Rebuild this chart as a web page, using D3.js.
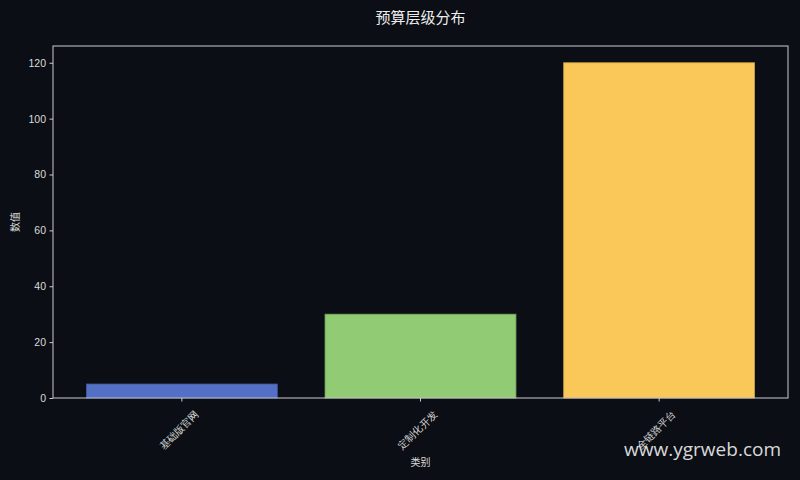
<!DOCTYPE html>
<html>
<head>
<meta charset="utf-8">
<script src="https://cdn.jsdelivr.net/npm/d3@7"></script>
<style>
  html, body { margin: 0; padding: 0; background: #0b0e14; }
  svg { display: block; font-family: "Noto Sans CJK SC", "DejaVu Sans", sans-serif; }
</style>
</head>
<body>
<div id="chart"></div>
<script>
const categories = ['基础版官网', '定制化开发', '全链路平台'];
const values = [5, 30, 120];
const barColors = ['#5470c6', '#91cc75', '#fac858'];
const yTicks = [0, 20, 40, 60, 80, 100, 120];

const width = 800,
	height = 480,
	margin = {top: 46, right: 12, bottom: 82, left: 53},
	innerWidth = width - margin.left - margin.right,
	innerHeight = height - margin.top - margin.bottom,
	textColor = '#dcdcdc',
	axisColor = '#cccccc';

const svg = d3.select('#chart')
	.append('svg')
	.attr('width', width)
	.attr('height', height);

svg.append('rect')
	.attr('width', width)
	.attr('height', height)
	.attr('fill', '#0b0e14');

const x = d3.scaleBand()
	.domain(categories)
	.range([0, innerWidth])
	.paddingInner(0.2)
	.paddingOuter(0.14);

const y = d3.scaleLinear()
	.domain([0, d3.max(values) * 1.05])
	.range([innerHeight, 0]);

const g = svg.append('g')
	.attr('transform', `translate(${margin.left},${margin.top})`);

// bars
g.selectAll('rect.bar')
	.data(categories)
	.enter()
	.append('rect')
	.classed('bar', true)
	.attr('x', d => x(d))
	.attr('y', (d, i) => y(values[i]))
	.attr('width', x.bandwidth())
	.attr('height', (d, i) => y(0) - y(values[i]))
	.attr('fill', (d, i) => barColors[i])
	.attr('stroke', (d, i) => d3.color(barColors[i]).darker(0.6))
	.attr('stroke-width', 0.8);

// frame
g.append('rect')
	.attr('width', innerWidth)
	.attr('height', innerHeight)
	.attr('fill', 'none')
	.attr('stroke', axisColor)
	.attr('stroke-width', 1);

// y axis
const yAxis = g.append('g')
	.call(d3.axisLeft(y).tickValues(yTicks).tickSize(3.5).tickPadding(3.5));
yAxis.select('.domain').remove();
yAxis.selectAll('line').attr('stroke', axisColor);
yAxis.selectAll('text')
	.attr('fill', textColor)
	.style('font-family', '"Liberation Sans", Arial, sans-serif')
	.style('font-size', '10.5px');

// x axis - rotated labels centred below each tick
const xAxis = g.append('g')
	.attr('transform', `translate(0,${innerHeight})`)
	.call(d3.axisBottom(x).tickSize(3.5).tickPadding(0));
xAxis.select('.domain').remove();
xAxis.selectAll('line').attr('stroke', axisColor);
xAxis.selectAll('text')
	.attr('fill', textColor)
	.style('font-size', '10px')
	.attr('text-anchor', 'middle')
	.attr('y', 0)
	.attr('dy', '0.35em')
	.attr('transform', 'translate(-3,32) rotate(-45)');

// labels
svg.append('text')
	.attr('x', margin.left + innerWidth / 2)
	.attr('y', 23)
	.attr('text-anchor', 'middle')
	.attr('fill', '#eeeeee')
	.style('font-size', '15px')
	.text('预算层级分布');

svg.append('text')
	.attr('x', margin.left + innerWidth / 2)
	.attr('y', 466)
	.attr('text-anchor', 'middle')
	.attr('fill', textColor)
	.style('font-size', '10px')
	.text('类别');

svg.append('text')
	.attr('transform', `translate(19,${margin.top + innerHeight / 2}) rotate(-90)`)
	.attr('text-anchor', 'middle')
	.attr('fill', textColor)
	.style('font-size', '10px')
	.text('数值');

// watermark
svg.append('text')
	.attr('x', 781)
	.attr('y', 456)
	.attr('text-anchor', 'end')
	.attr('fill', '#ffffff')
	.attr('fill-opacity', 0.85)
	.style('font-family', '"Open Sans", "DejaVu Sans", sans-serif')
	.style('font-size', '19px')
	.text('www.ygrweb.com');
</script>
</body>
</html>
